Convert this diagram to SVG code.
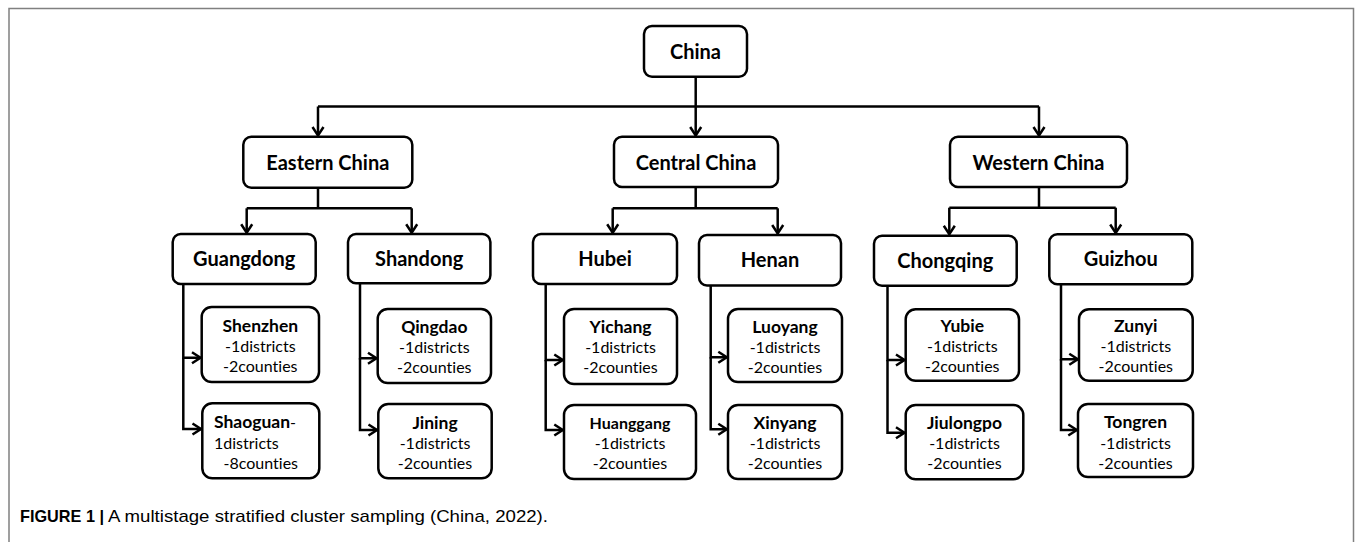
<svg xmlns="http://www.w3.org/2000/svg" width="1355" height="542" viewBox="0 0 1355 542">
<style>
.frame{fill:none;stroke:#808080;stroke-width:1.5}
.box{fill:#fff;stroke:#000;stroke-width:2.5}
.conn{fill:none;stroke:#000;stroke-width:2.5}
text{font-variant-ligatures:none;font-feature-settings:"liga" 0,"clig" 0}
.t1{font-family:Lato,"Open Sans","Liberation Sans",sans-serif;font-weight:700;font-size:20px;text-anchor:middle;fill:#000}
.t3{font-family:Lato,"Open Sans","Liberation Sans",sans-serif;font-weight:700;font-size:17.5px;text-anchor:middle;fill:#000}
.tr{font-family:Lato,"Open Sans","Liberation Sans",sans-serif;font-weight:400;font-size:16px;text-anchor:middle;fill:#000}
.cap{font-family:"Liberation Sans Narrow","Liberation Sans",Arial,sans-serif;font-size:17px;fill:#000}
</style>
<defs>
<marker id="arr" markerUnits="userSpaceOnUse" markerWidth="14" markerHeight="16" refX="10" refY="7" orient="auto" viewBox="0 0 14 16">
<path d="M1.5,1.5 L10,7 L1.5,12.5" fill="none" stroke="#000" stroke-width="2.5"/>
</marker>
</defs>
<g id="frame">
<path class="frame" d="M9,542 V8.5 H1353.5 V542"/>
</g>
<g id="connectors">
<path class="conn" d="M695.7,76.7 V135.5" marker-end="url(#arr)"/>
<path class="conn" d="M318,106.5 H1039"/>
<path class="conn" d="M318,106.5 V135.5" marker-end="url(#arr)"/>
<path class="conn" d="M1039,106.5 V135.5" marker-end="url(#arr)"/>
<path class="conn" d="M318,187.7 V208.3 M246.7,208.3 H411.7"/>
<path class="conn" d="M246.7,208.3 V232.8" marker-end="url(#arr)"/>
<path class="conn" d="M411.7,208.3 V232.8" marker-end="url(#arr)"/>
<path class="conn" d="M695.7,187 V208.3 M612.7,208.3 H777.7"/>
<path class="conn" d="M612.7,208.3 V232.8" marker-end="url(#arr)"/>
<path class="conn" d="M777.7,208.3 V233.5" marker-end="url(#arr)"/>
<path class="conn" d="M1039,187 V207.7 M949.3,207.7 H1115.7"/>
<path class="conn" d="M949.3,207.7 V234.3" marker-end="url(#arr)"/>
<path class="conn" d="M1115.7,207.7 V233" marker-end="url(#arr)"/>
<path class="conn" d="M183.3,284 V357.7 H200.5" marker-end="url(#arr)"/>
<path class="conn" d="M183.3,357.7 V429 H201" marker-end="url(#arr)"/>
<path class="conn" d="M360,283.3 V358.3 H376.5" marker-end="url(#arr)"/>
<path class="conn" d="M360,358.3 V430 H377" marker-end="url(#arr)"/>
<path class="conn" d="M545.7,284 V360 H562.8" marker-end="url(#arr)"/>
<path class="conn" d="M545.7,360 V430 H562.8" marker-end="url(#arr)"/>
<path class="conn" d="M710.7,285.5 V357.3 H726.8" marker-end="url(#arr)"/>
<path class="conn" d="M710.7,357.3 V429.3 H726.8" marker-end="url(#arr)"/>
<path class="conn" d="M887.5,285.7 V360 H904.5" marker-end="url(#arr)"/>
<path class="conn" d="M887.5,360 V432.7 H904.5" marker-end="url(#arr)"/>
<path class="conn" d="M1061,284.3 V359.3 H1077.8" marker-end="url(#arr)"/>
<path class="conn" d="M1061,359.3 V430 H1076.8" marker-end="url(#arr)"/>
</g>
<g id="china"><rect class="box" x="644" y="26" width="103" height="50.7" rx="8"/><text class="t1" x="695.5" y="59">China</text></g>
<g id="eastern"><rect class="box" x="243.3" y="136.7" width="169" height="51" rx="8"/><text class="t1" x="327.8" y="170">Eastern China</text></g>
<g id="central"><rect class="box" x="614" y="136.7" width="164" height="50.3" rx="8"/><text class="t1" x="696" y="170">Central China</text></g>
<g id="western"><rect class="box" x="950" y="136.7" width="177" height="50.3" rx="8"/><text class="t1" x="1038.5" y="170">Western China</text></g>
<g id="guangdong"><rect class="box" x="172.7" y="234" width="143" height="50" rx="8"/><text class="t1" x="244.2" y="266">Guangdong</text></g>
<g id="shandong"><rect class="box" x="348" y="234" width="142.4" height="49.3" rx="8"/><text class="t1" x="419.2" y="265.5">Shandong</text></g>
<g id="hubei"><rect class="box" x="533" y="234" width="144" height="50" rx="8"/><text class="t1" x="605" y="266">Hubei</text></g>
<g id="henan"><rect class="box" x="699" y="235" width="142" height="50.5" rx="8"/><text class="t1" x="770" y="267">Henan</text></g>
<g id="chongqing"><rect class="box" x="874" y="235.7" width="142.7" height="50" rx="8"/><text class="t1" x="945.3" y="267.5">Chongqing</text></g>
<g id="guizhou"><rect class="box" x="1049.3" y="234.3" width="143" height="50" rx="8"/><text class="t1" x="1120.8" y="266">Guizhou</text></g>
<g id="shenzhen"><rect class="box" x="201.7" y="307" width="117.3" height="75" rx="10"/><text class="t3" x="260.3" y="331.5">Shenzhen</text><text class="tr" x="260.3" y="351.5">-1districts</text><text class="tr" x="260.3" y="371.5">-2counties</text></g>
<g id="shaoguan"><rect class="box" x="202.3" y="403.3" width="117" height="75" rx="10"/><text class="t3" x="214" y="428" style="text-anchor:start">Shaoguan<tspan style="font-weight:400;font-size:16px">-</tspan></text><text class="tr" x="214" y="448.5" style="text-anchor:start">1districts</text><text class="tr" x="260.8" y="469">-8counties</text></g>
<g id="qingdao"><rect class="box" x="377.7" y="309" width="113.3" height="74" rx="10"/><text class="t3" x="434.3" y="333">Qingdao</text><text class="tr" x="434.3" y="353">-1districts</text><text class="tr" x="434.3" y="373">-2counties</text></g>
<g id="jining"><rect class="box" x="378.3" y="404" width="113.4" height="74.3" rx="10"/><text class="t3" x="435" y="428.5">Jining</text><text class="tr" x="435" y="449">-1districts</text><text class="tr" x="435" y="469">-2counties</text></g>
<g id="yichang"><rect class="box" x="564" y="309" width="113" height="75" rx="10"/><text class="t3" x="620.5" y="333">Yichang</text><text class="tr" x="620.5" y="353">-1districts</text><text class="tr" x="620.5" y="373">-2counties</text></g>
<g id="huanggang"><rect class="box" x="564" y="405" width="132" height="74" rx="10"/><text class="t3" x="630" y="428.5" style="font-size:16px">Huanggang</text><text class="tr" x="630" y="449">-1districts</text><text class="tr" x="630" y="469">-2counties</text></g>
<g id="luoyang"><rect class="box" x="728" y="309" width="114" height="73" rx="10"/><text class="t3" x="785" y="333">Luoyang</text><text class="tr" x="785" y="353">-1districts</text><text class="tr" x="785" y="373">-2counties</text></g>
<g id="xinyang"><rect class="box" x="728" y="405" width="114" height="74" rx="10"/><text class="t3" x="785" y="428.5">Xinyang</text><text class="tr" x="785" y="449">-1districts</text><text class="tr" x="785" y="469">-2counties</text></g>
<g id="yubie"><rect class="box" x="905.7" y="309.3" width="113.3" height="71.4" rx="10"/><text class="t3" x="962.3" y="331.5">Yubie</text><text class="tr" x="962.3" y="352">-1districts</text><text class="tr" x="962.3" y="372">-2counties</text></g>
<g id="jiulongpo"><rect class="box" x="905.7" y="405" width="117.6" height="74.3" rx="10"/><text class="t3" x="964.5" y="428.5">Jiulongpo</text><text class="tr" x="964.5" y="449">-1districts</text><text class="tr" x="964.5" y="469">-2counties</text></g>
<g id="zunyi"><rect class="box" x="1079" y="309.3" width="113.7" height="71.4" rx="10"/><text class="t3" x="1135.8" y="331.5">Zunyi</text><text class="tr" x="1135.8" y="352">-1districts</text><text class="tr" x="1135.8" y="372">-2counties</text></g>
<g id="tongren"><rect class="box" x="1078" y="404" width="115" height="73" rx="10"/><text class="t3" x="1135.5" y="428">Tongren</text><text class="tr" x="1135.5" y="448.5">-1districts</text><text class="tr" x="1135.5" y="469">-2counties</text></g>
<g id="caption">
<text class="cap" x="20" y="522" style="font-weight:700" textLength="84" lengthAdjust="spacingAndGlyphs">FIGURE 1 |</text>
<text class="cap" x="108" y="522" textLength="440" lengthAdjust="spacingAndGlyphs">A multistage stratified cluster sampling (China, 2022).</text>
</g>
</svg>
